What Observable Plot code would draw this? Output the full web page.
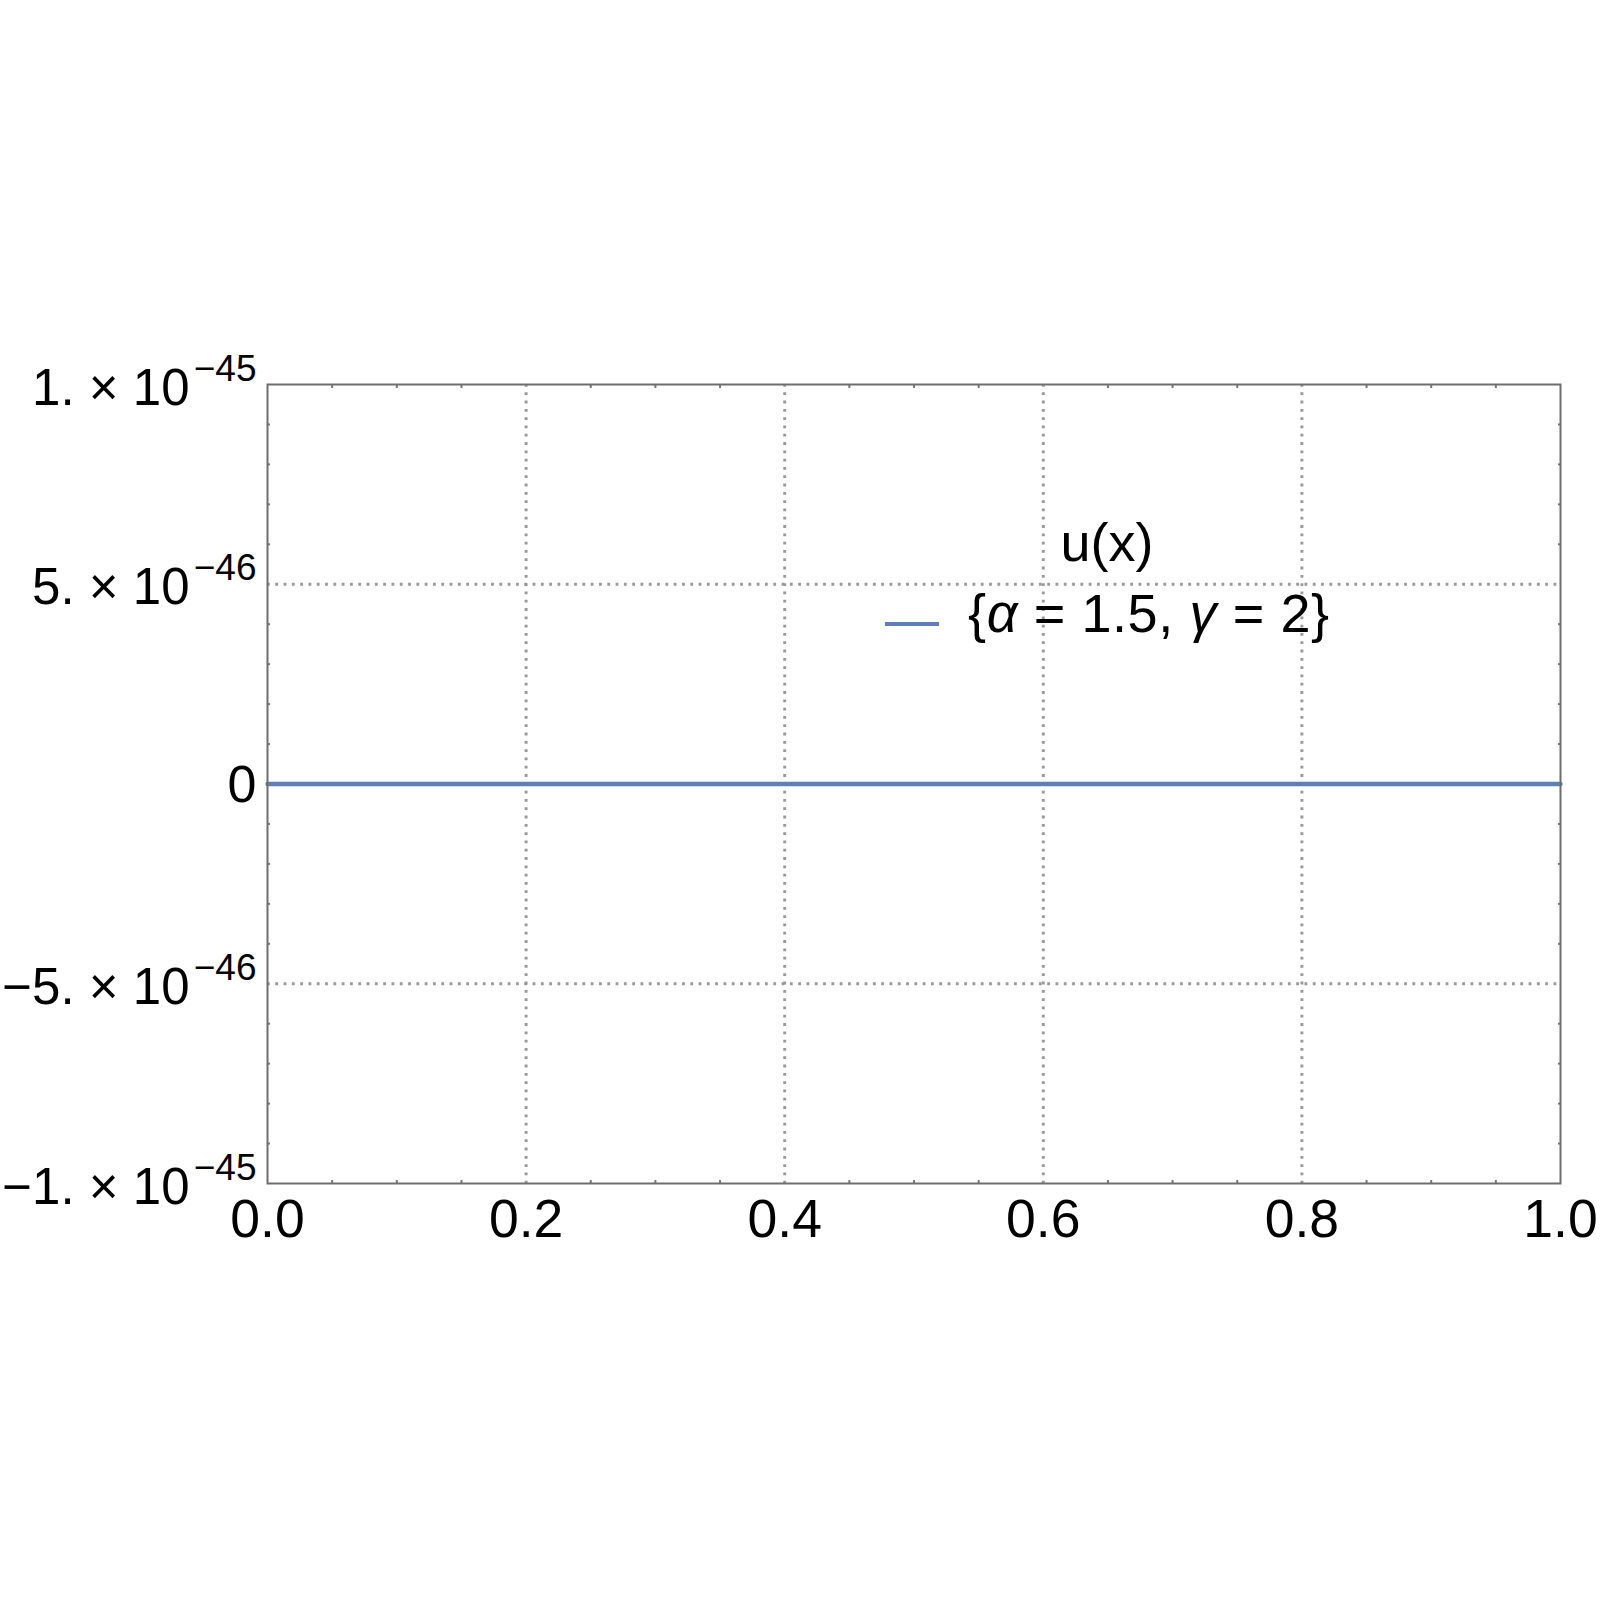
<!DOCTYPE html>
<html>
<head>
<meta charset="utf-8">
<script src="https://cdn.jsdelivr.net/npm/d3@7"></script>
<script src="https://cdn.jsdelivr.net/npm/@observablehq/plot@0.6"></script>
<style>
html, body { margin: 0; padding: 0; background: #fff; }
#wrap { position: relative; width: 1600px; height: 1603px; overflow: hidden; }
#wrap svg { display: block; }
.leg { position: absolute; font-family: "Liberation Sans", Arial, Helvetica, sans-serif; font-size: 54px; line-height: 54px; color: #000; white-space: pre; }
.swatch { position: absolute; height: 4px; background: #5E81B5; }
</style>
</head>
<body>
<div id="wrap"></div>
<script>
// ---- data ----
const xValues = [0, 0.25, 0.5, 0.75, 1];
const uValues = [0, 0, 0, 0, 0];
const seriesName = "{α = 1.5, γ = 2}";
const legendTitle = "u(x)";

const xTicks = [0, 0.2, 0.4, 0.6, 0.8, 1];
const xTickLabels = ["0.0", "0.2", "0.4", "0.6", "0.8", "1.0"];
const xMinorTicks = [0.05, 0.1, 0.15, 0.25, 0.3, 0.35, 0.45, 0.5, 0.55, 0.65, 0.7, 0.75, 0.85, 0.9, 0.95];

const yTicks = [-1e-45, -5e-46, 0, 5e-46, 1e-45];
const yTickMantissa = ["−1. × 10", "−5. × 10", "0", "5. × 10", "1. × 10"];
const yTickExponent = ["−45", "−46", "", "−46", "−45"];
const yMinorTicks = [-9e-46, -8e-46, -7e-46, -6e-46, -4e-46, -3e-46, -2e-46, -1e-46,
                     1e-46, 2e-46, 3e-46, 4e-46, 6e-46, 7e-46, 8e-46, 9e-46];

// ---- build ----
const data = xValues.map((x, i) => ({x, u: uValues[i]}));
const yLab = yTicks.map((v, i) => ({v, m: yTickMantissa[i], e: yTickExponent[i]}));
const yLabExp = yLab.filter(d => d.e !== "");
const yLabZero = yLab.filter(d => d.e === "");

const gridStyle = {stroke: "#999", strokeOpacity: 1, strokeWidth: 2.9, strokeDasharray: "2.8,5.5"};
const tickStroke = "#777";
const font = "'Liberation Sans', Arial, Helvetica, sans-serif";
const minorTick = {tickSize: -3, tickFormat: () => "", label: null, stroke: tickStroke, strokeWidth: 2};

const chart = Plot.plot({
  width: 1600,
  height: 1603,
  marginLeft: 267,
  marginRight: 40,
  marginTop: 384,
  marginBottom: 420,
  style: {fontFamily: font, background: "transparent", color: "#000"},
  x: {domain: [0, 1]},
  y: {domain: [-1e-45, 1e-45]},
  marks: [
    Plot.gridX(xTicks.slice(1, -1), gridStyle),
    Plot.gridY(yTicks.slice(1, -1), gridStyle),
    // tiny inward minor ticks on all four frame sides
    Plot.axisX(xMinorTicks, {anchor: "bottom", ...minorTick}),
    Plot.axisX(xMinorTicks, {anchor: "top", ...minorTick}),
    Plot.axisY(yMinorTicks, {anchor: "left", ...minorTick}),
    Plot.axisY(yMinorTicks, {anchor: "right", ...minorTick}),
    Plot.line(data, {x: "x", y: "u", stroke: "#5E81B5", strokeWidth: 4.4}),
    Plot.frame({stroke: "#6e6e6e", strokeWidth: 2}),
    // x tick labels
    Plot.axisX(xTicks, {anchor: "bottom", tickSize: 0, tickPadding: 15, fontSize: 53.5, label: null,
      tickFormat: (d) => xTickLabels[xTicks.indexOf(d)], fill: "#000"}),
    // y tick labels: mantissa + superscript exponent
    Plot.text(yLabExp, {y: "v", text: "m", frameAnchor: "left", textAnchor: "end", lineAnchor: "bottom",
      dx: -78, dy: 20, fontSize: 51, fill: "#000"}),
    Plot.text(yLabExp, {y: "v", text: "e", frameAnchor: "left", textAnchor: "end", lineAnchor: "bottom",
      dx: -11, dy: -4, fontSize: 37, fill: "#000"}),
    Plot.text(yLabZero, {y: "v", text: "m", frameAnchor: "left", textAnchor: "end", lineAnchor: "bottom",
      dx: -11, dy: 18, fontSize: 52, fill: "#000"})
  ]
});

const wrap = document.getElementById("wrap");
wrap.appendChild(chart);

// legend (inside plot area, upper right)
const title = document.createElement("div");
title.className = "leg";
title.textContent = legendTitle;
title.style.left = "1107px";
title.style.top = "515px";
title.style.transform = "translateX(-50%)";
wrap.appendChild(title);

const sw = document.createElement("div");
sw.className = "swatch";
sw.style.left = "885px";
sw.style.width = "54px";
sw.style.top = "622px";
wrap.appendChild(sw);

const lab = document.createElement("div");
lab.className = "leg";
lab.style.letterSpacing = "0.6px";
lab.innerHTML = seriesName.replace("α", "<i>α</i>").replace("γ", "<i>γ</i>");
lab.style.left = "968px";
lab.style.top = "586px";
wrap.appendChild(lab);
</script>
</body>
</html>
